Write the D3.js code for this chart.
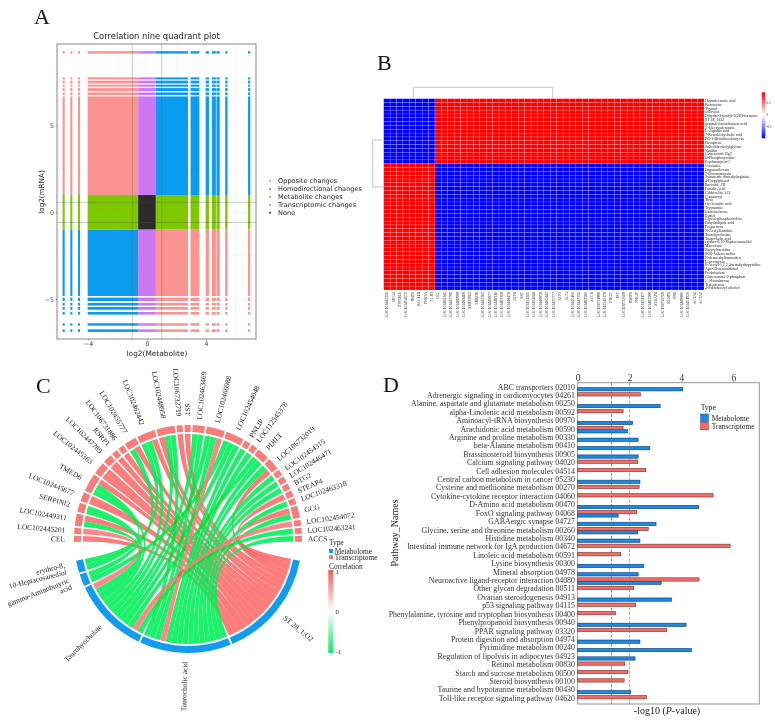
<!DOCTYPE html>
<html>
<head>
<meta charset="utf-8">
<script src="https://cdn.jsdelivr.net/npm/d3@7"></script>
<style>
   html, body { margin: 0; padding: 0; background: #fff; }
   svg { display: block; }
   text { font-family: "Liberation Serif", serif; fill: #222; }
   .sans text, text.sans { font-family: "DejaVu Sans", sans-serif; }
   .blend { isolation: isolate; }
   .blend path { mix-blend-mode: multiply; }
</style>
</head>
<body>
<svg id="chart" width="775" height="721"></svg>
<script>
// Panel A: value ranges on each axis where the points form solid bands
const metaboliteBands = [[-5.72, -5.58], [-5.2, -5.06], [-4.68, -4.54], [-4.02, -0.6], [-0.6, 0.6], [0.6, 2.78],
   [2.95, 3.55], [3.98, 4.2], [4.4, 4.67], [4.71, 4.93], [5.3, 5.46], [6.85, 7.0]];
const mrnaBands = [[9.16, 9.3], [7.67, 7.79], [7.44, 7.6], [7.25, 7.37], [7.0, 7.17], [6.77, 6.92], [1, 6.69], [-1, 1],
   [-4.83, -1], [-5.12, -4.92], [-5.38, -5.23], [-5.62, -5.46], [-5.9, -5.75], [-6.54, -6.4], [-6.9, -6.75]];
const quadrantNames = ['Opposite changes', 'Homodirectional changes', 'Metabolite changes', 'Transcriptomic changes', 'None'];
const quadrantColors = ['#fb9490', '#0b9cf0', '#7ec800', '#cc78f2', '#2b2b2b'];

// Panel B
const heatRowLabels = ['Heptadecanoic acid', 'Bufotenine', 'Thymol', 'ioflavone', 'Dihydro-3-pentyl-3(2H)-furanone', 'ST 28_1;O2',
   'gamma-Aminobutyric acid', "5'-Deoxyadenosine", 'L-Aspartic acid', '7-Ketodeoxycholic acid', 'PG-1-Dimidiocolamycin', 'Decaprene',
   'Sulfolithocholylglycine', 'Vanillin', 'Ginsenoside Rg3', 'O-Phosphotyrosine', 'Erythromycin C', 'Cerulenin', 'Organosiloxane',
   '7-Oxomatairesin', 'Symmetric dimethylarginine', '4-Propylphenol', 'Bacoside_III', 'Fusidic Acid', 'Gibberellin A13', 'Cinnamoyl',
   'Ticin', 'cis-Aconitic acid', 'Tryptamine', 'Galactaclarose', 'Estriol', 'Glycerophosphocholine', 'Dihydrolipoic acid', 'Pregnenone',
   'N-Acetylhistidine', 'Taurohyocholate', 'Taurocholic acid', 'erythro-8,10-Heptacosanediol', 'Mitoxitone', 'Butyrylcarnitine',
   '(RS)-Valencenoline', 'N-desmethyltamoxifen', 'Leucomycin', '6-Acetyl-1,2,3,4-tetrahydropyridine', 'Apo-13-zeaxanthinal',
   'Prednisolone', 'Glucosamine 6-phosphate', '(+)-Isotalatrone', 'Testosterone', '4-Sulfobenzyl alcohol'];
const heatColLabels = ['LOC102445201', 'BTG2', 'ZFP36L1', 'LOC102454072', 'RBP1', 'BCL11B', 'PHETA', 'TLR3', 'CEL', 'LOC102463241',
   'LOC102447789', 'LOC102466988', 'LOC102463469', 'SERPINI2', 'TMED6', 'LOC102445363', 'LOC102445677', 'LOC102449311', 'LOC102463318',
   'LOC102446471', 'ATF4', 'SST', 'LOC102454315', 'LOC102454048', 'LOC102448958', 'LOC102462442', 'LOC102455777', 'ATF3', 'GCG',
   'LOC102445100', 'LOC102447551', 'LOC102463560', 'ACCS', 'LOC106731886', 'LOC112545378', 'PDILT', 'VIT', 'LOC106732019', 'RSRP1',
   'PNLIP', 'LOC102451177', 'LOC102462388', 'STEAP4', 'LOC106732719', 'RLBP1', 'FN1', 'LOC102449880', 'LOC102451920', 'ACTA1', 'ACTA2'];
const heatRowSign = [1, 1, 1, 1, 1, 1, 1, 1, 1, 1, 1, 1, 1, 1, 1, 1, 1, -1, -1, -1, -1, -1, -1, -1, -1, -1, -1, -1, -1, -1, -1, -1, -1,
   -1, -1, -1, -1, -1, -1, -1, -1, -1, -1, -1, -1, -1, -1, -1, -1, -1];
const heatColSign = [-1, -1, -1, -1, -1, -1, -1, -1, 1, 1, 1, 1, 1, 1, 1, 1, 1, 1, 1, 1, 1, 1, 1, 1, 1, 1, 1, 1, 1, 1, 1, 1, 1, 1, 1, 1,
   1, 1, 1, 1, 1, 1, 1, 1, 1, 1, 1, 1, 1, 1];

// Panel C: [gene, metabolite, correlation, link width], genes clockwise from CEL
const chordGenes = ['CEL', 'LOC102445201', 'LOC102449311', 'SERPINI2', 'LOC102445677', 'TMED6', 'LOC102445363', 'LOC102447789', 'RSRP1',
   'LOC106731886', 'LOC102455777', 'LOC102462442', 'LOC102448958', 'LOC106732719', 'SST', 'LOC102463469', 'LOC102466988', 'LOC102454048',
   'PNLIP', 'LOC112545378', 'PDILT', 'LOC106732019', 'LOC102454315', 'LOC102446471', 'BTG2', 'STEAP4', 'LOC102463318', 'GCG',
   'LOC102454072', 'LOC102463241', 'ACCS'];
const chordMetabolites = ['ST 28_1;O2', 'Taurocholic acid', 'Taurohyocholate', 'gamma-Aminobutyric acid', 'erythro-8,10-Heptacosanediol'];
const chordLinks = [
   ['CEL', 'ST 28_1;O2', 1, 1], ['LOC102445201', 'Taurohyocholate', 1, 1],
   ['LOC102449311', 'Taurohyocholate', -1, 1], ['LOC102449311', 'ST 28_1;O2', 1, 1],
   ['SERPINI2', 'Taurohyocholate', -1, 1.5], ['LOC102445677', 'ST 28_1;O2', 1, 1.5],
   ['TMED6', 'erythro-8,10-Heptacosanediol', -1, 1], ['TMED6', 'Taurohyocholate', -1, 1], ['TMED6', 'ST 28_1;O2', 1, 1],
   ['LOC102445363', 'ST 28_1;O2', 1, 1], ['LOC102445363', 'ST 28_1;O2', 1, 1],
   ['LOC102447789', 'ST 28_1;O2', 1, 1.5], ['RSRP1', 'ST 28_1;O2', 1, 1], ['LOC106731886', 'ST 28_1;O2', 1, 1],
   ['LOC102455777', 'gamma-Aminobutyric acid', -1, 1], ['LOC102455777', 'ST 28_1;O2', 1, 1],
   ['LOC102462442', 'erythro-8,10-Heptacosanediol', -1, 1], ['LOC102462442', 'Taurohyocholate', -1, 1], ['LOC102462442', 'ST 28_1;O2', 1, 1],
   ['LOC102448958', 'ST 28_1;O2', 1, 1], ['LOC102448958', 'Taurohyocholate', -1, 1], ['LOC102448958', 'Taurocholic acid', -1, 1],
   ['LOC106732719', 'ST 28_1;O2', 1, 1], ['SST', 'ST 28_1;O2', 1, 1],
   ['LOC102463469', 'Taurohyocholate', -1, 1], ['LOC102463469', 'Taurocholic acid', -1, 1],
   ['LOC102466988', 'Taurohyocholate', -1, 1], ['LOC102466988', 'Taurocholic acid', -1, 1], ['LOC102466988', 'Taurocholic acid', 1, 1],
   ['LOC102454048', 'gamma-Aminobutyric acid', -1, 1], ['LOC102454048', 'Taurohyocholate', -1, 1], ['LOC102454048', 'Taurocholic acid', -1, 1],
   ['PNLIP', 'Taurocholic acid', -1, 1], ['LOC112545378', 'Taurocholic acid', -1, 1],
   ['PDILT', 'Taurohyocholate', -1, 1], ['PDILT', 'Taurocholic acid', -1, 1],
   ['LOC106732019', 'Taurocholic acid', -1, 1], ['LOC106732019', 'ST 28_1;O2', 1, 1],
   ['LOC102454315', 'Taurocholic acid', -1, 1], ['LOC102446471', 'Taurocholic acid', -1, 1], ['BTG2', 'Taurocholic acid', -1, 1],
   ['STEAP4', 'ST 28_1;O2', 1, 1], ['LOC102463318', 'Taurocholic acid', -1, 1],
   ['GCG', 'ST 28_1;O2', 1, 1], ['GCG', 'Taurocholic acid', -1, 1],
   ['LOC102454072', 'Taurohyocholate', 1, 1], ['LOC102463241', 'Taurohyocholate', -1, 1], ['ACCS', 'Taurocholic acid', -1, 1]
];

// Panel D
const pathwayNames = ['ABC transporters 02010', 'Adrenergic signaling in cardiomyocytes 04261', 'Alanine, aspartate and glutamate metabolism 00250',
   'alpha-Linolenic acid metabolism 00592', 'Aminoacyl-tRNA biosynthesis 00970', 'Arachidonic acid metabolism 00590',
   'Arginine and proline metabolism 00330', 'beta-Alanine metabolism 00410', 'Brassinosteroid biosynthesis 00905',
   'Calcium signaling pathway 04020', 'Cell adhesion molecules 04514', 'Central carbon metabolism in cancer 05230',
   'Cysteine and methionine metabolism 00270', 'Cytokine-cytokine receptor interaction 04060', 'D-Amino acid metabolism 00470',
   'FoxO signaling pathway 04068', 'GABAergic synapse 04727', 'Glycine, serine and threonine metabolism 00260', 'Histidine metabolism 00340',
   'Intestinal immune network for IgA production 04672', 'Linoleic acid metabolism 00591', 'Lysine biosynthesis 00300',
   'Mineral absorption 04978', 'Neuroactive ligand-receptor interaction 04080', 'Other glycan degradation 00511', 'Ovarian steroidogenesis 04913',
   'p53 signaling pathway 04115', 'Phenylalanine, tyrosine and tryptophan biosynthesis 00400', 'Phenylpropanoid biosynthesis 00940',
   'PPAR signaling pathway 03320', 'Protein digestion and absorption 04974', 'Pyrimidine metabolism 00240',
   'Regulation of lipolysis in adipocytes 04923', 'Retinol metabolism 00830', 'Starch and sucrose metabolism 00500',
   'Steroid biosynthesis 00100', 'Taurine and hypotaurine metabolism 00430', 'Toll-like receptor signaling pathway 04620'];
const metabolomeValues = [4.05, null, 3.18, null, 2.12, 1.92, 2.33, 2.78, 2.33, null, null, 2.4, null, null, 4.67, 1.56, 3.02, 2.32, 2.4,
   null, null, 2.55, 2.33, 3.22, null, 3.62, null, null, 4.18, null, 2.4, 4.38, 2.21, null, null, null, 2.04, null];
const transcriptomeValues = [null, 2.42, null, 1.75, null, 1.75, null, null, null, 2.32, 2.63, null, 2.37, 5.22, null, 2.28, null, 2.72, null,
   5.88, 1.66, null, null, 4.68, 2.16, null, 2.24, 1.46, null, 3.44, null, null, null, 1.82, 1.94, 1.79, null, 2.65];
const pValueCutoffs = [1.3, 2];
const typeNames = ['Metabolome', 'Transcriptome'];
const typeColors = ['#1a8ae2', '#ef6e6a'];

const svg = d3.select('#chart');
const defs = svg.append('defs');

drawPanelLetters();
drawQuadrantPlot();
drawHeatmap();
drawChord();
drawPathwayBars();

function drawPanelLetters() {
   const letters = [['A', 34, 24], ['B', 377, 70], ['C', 36, 393], ['D', 383, 392]];
   svg.selectAll('text.letter')
      .data(letters)
      .enter()
      .append('text')
      .attr('class', 'letter')
      .attr('x', (d) => d[1])
      .attr('y', (d) => d[2])
      .attr('font-size', 22)
      .style('fill', '#111')
      .text((d) => d[0]);
}

// verticalGradient: stops listed top to bottom
function verticalGradient(id, colors) {
   const g = defs.append('linearGradient')
      .attr('id', id)
      .attr('x1', 0).attr('x2', 0).attr('y1', 0).attr('y2', 1);
   colors.forEach((c, i) => {
      g.append('stop').attr('offset', i / (colors.length - 1)).attr('stop-color', c);
   });
}

// A: nine quadrant plot
function drawQuadrantPlot() {
   const frame = { left: 57, right: 256, top: 44, bottom: 339 };
   const x = d3.scaleLinear().domain([-4, 4]).range([88, 206]);
   const y = d3.scaleLinear().domain([-5, 5]).range([299, 125.7]);
   const g = svg.append('g').attr('class', 'sans');

   // grid
   const gridX = [-6, -4, -2, 0, 2, 4, 6];
   const gridY = [-5, -2.5, 0, 2.5, 5, 7.5];
   g.selectAll('line.gx').data(gridX).enter().append('line')
      .attr('x1', x).attr('x2', x).attr('y1', frame.top).attr('y2', frame.bottom)
      .attr('stroke', '#eeeeee').attr('stroke-width', 0.6);
   g.selectAll('line.gy').data(gridY).enter().append('line')
      .attr('x1', frame.left).attr('x2', frame.right).attr('y1', y).attr('y2', y)
      .attr('stroke', '#eeeeee').attr('stroke-width', 0.6);

   // points form solid blocks, one rect per pair of bands
   const cells = [];
   metaboliteBands.forEach((mx) => {
      mrnaBands.forEach((my) => {
         cells.push({ mx: mx, my: my, kind: quadrant((mx[0] + mx[1]) / 2, (my[0] + my[1]) / 2) });
      });
   });
   g.selectAll('rect.cell')
      .data(cells)
      .enter()
      .append('rect')
      .attr('x', (d) => x(d.mx[0]))
      .attr('width', (d) => x(d.mx[1]) - x(d.mx[0]))
      .attr('y', (d) => y(d.my[1]))
      .attr('height', (d) => y(d.my[0]) - y(d.my[1]))
      .attr('fill', (d) => quadrantColors[d.kind]);

   // threshold lines
   [-1, 1].forEach((v) => {
      g.append('line').attr('x1', x(v)).attr('x2', x(v)).attr('y1', frame.top).attr('y2', frame.bottom)
         .attr('stroke', '#555').attr('stroke-opacity', 0.55).attr('stroke-width', 0.6);
   });
   [-0.585, 0.585].forEach((v) => {
      g.append('line').attr('x1', frame.left).attr('x2', frame.right).attr('y1', y(v)).attr('y2', y(v))
         .attr('stroke', '#555').attr('stroke-opacity', 0.55).attr('stroke-width', 0.6);
   });

   g.append('rect')
      .attr('x', frame.left).attr('y', frame.top)
      .attr('width', frame.right - frame.left).attr('height', frame.bottom - frame.top)
      .attr('fill', 'none').attr('stroke', '#7a7a7a').attr('stroke-width', 0.9);

   // axes
   const xAxis = g.append('g').attr('transform', `translate(0,${frame.bottom})`)
      .call(d3.axisBottom(x).tickValues([-4, 0, 4]).tickSize(1.5).tickPadding(1).tickFormat(d3.format('d')));
   const yAxis = g.append('g').attr('transform', `translate(${frame.left},0)`)
      .call(d3.axisLeft(y).tickValues([-5, 0, 5]).tickSize(1.5).tickPadding(1.5).tickFormat(d3.format('d')));
   [xAxis, yAxis].forEach((a) => {
      a.select('.domain').remove();
      a.selectAll('line').attr('stroke', '#555').attr('stroke-width', 0.5);
      a.selectAll('text').attr('font-size', 6.3).attr('font-family', 'DejaVu Sans').style('fill', '#444');
   });

   g.append('text').attr('x', 156.5).attr('y', 38.5).attr('text-anchor', 'middle')
      .attr('font-size', 8.4).text('Correlation nine quadrant plot');
   g.append('text').attr('x', 157).attr('y', 356).attr('text-anchor', 'middle')
      .attr('font-size', 7.4).text('log2(Metabolite)');
   g.append('text').attr('transform', 'translate(44,192) rotate(-90)').attr('text-anchor', 'middle')
      .attr('font-size', 7.2).text('log2(mRNA)');

   // legend
   const legend = g.selectAll('g.legend').data(quadrantNames).enter().append('g')
      .attr('transform', (d, i) => `translate(270,${181 + i * 7.95})`);
   legend.append('circle').attr('r', 1).attr('fill', (d, i) => quadrantColors[i]);
   legend.append('text').attr('x', 8).attr('dy', '0.34em').attr('font-size', 6.6).text((d) => d);
}

function quadrant(mx, my) {
   const big = Math.abs(mx) > 0.6;
   const tall = Math.abs(my) > 1;
   if (big && tall) return mx * my < 0 ? 0 : 1;
   if (big) return 2;
   if (tall) return 3;
   return 4;
}

// B: correlation heatmap
function drawHeatmap() {
   const x = d3.scaleBand().domain(d3.range(heatColLabels.length)).range([383.7, 704]);
   const y = d3.scaleBand().domain(d3.range(heatRowLabels.length)).range([98.7, 290]);
   const color = d3.scaleLinear().domain([-1, 0, 1]).range(['#0000ff', '#ffffff', '#ff0000']);
   const g = svg.append('g');

   const cells = [];
   heatRowSign.forEach((r, i) => {
      heatColSign.forEach((c, j) => {
         cells.push({ row: i, col: j, value: r * c });
      });
   });
   g.selectAll('rect.heat')
      .data(cells)
      .enter()
      .append('rect')
      .attr('x', (d) => x(d.col))
      .attr('y', (d) => y(d.row))
      .attr('width', x.bandwidth())
      .attr('height', y.bandwidth())
      .attr('fill', (d) => color(d.value))
      .attr('stroke', 'rgba(255,255,255,0.4)')
      .attr('stroke-width', 0.35);

   g.selectAll('text.rowlab')
      .data(heatRowLabels)
      .enter()
      .append('text')
      .attr('x', 705)
      .attr('y', (d, i) => y(i) + y.bandwidth() / 2)
      .attr('dy', '0.32em')
      .attr('font-size', 3.9)
      .text((d) => d);

   g.selectAll('text.collab')
      .data(heatColLabels)
      .enter()
      .append('text')
      .attr('transform', (d, i) => `translate(${x(i) + x.bandwidth() / 2},292) rotate(-90)`)
      .attr('dy', '0.32em')
      .attr('text-anchor', 'end')
      .attr('font-size', 3.9)
      .text((d) => d);

   // dendrograms
   const dendro = [
      [[413.3, 98.7], [413.3, 87.3], [552.7, 87.3], [552.7, 98.7]],
      [[383.7, 140], [372.7, 140], [372.7, 187], [383.7, 187]]
   ];
   g.selectAll('path.dendro')
      .data(dendro)
      .enter()
      .append('path')
      .attr('d', d3.line())
      .attr('fill', 'none')
      .attr('stroke', '#aaa')
      .attr('stroke-width', 0.7);

   // colour bar
   verticalGradient('heatScale', ['#ff0000', '#ffffff', '#0000ff']);
   g.append('rect').attr('x', 761.7).attr('y', 92.3).attr('width', 3.6).attr('height', 46)
      .attr('fill', 'url(#heatScale)');
   const barScale = d3.scaleLinear().domain([-0.5, 0.5]).range([127, 103]);
   g.selectAll('text.barlab')
      .data([-0.5, 0, 0.5])
      .enter()
      .append('text')
      .attr('x', 766.5)
      .attr('y', barScale)
      .attr('dy', '0.32em')
      .attr('font-size', 3.2)
      .text((d) => d);
}

// C: chord diagram
function drawChord() {
   const cx = 188, cy = 539;
   const outer = 114, inner = 107, ribbonR = 105;
   const g = svg.append('g').attr('transform', `translate(${cx},${cy})`);
   const deg = Math.PI / 180;
   const gap = 0.96, unit = 3.115;

   // lay the sectors out clockwise, widths follow the link widths
   function sectors(names, start, linkKey) {
      let a = start;
      return names.map((name) => {
         const n = d3.sum(chordLinks.filter((l) => l[linkKey] === name), (l) => l[3]);
         const s = { name: name, start: a, end: a + n * unit };
         a = s.end + gap;
         return s;
      });
   }
   const geneSectors = sectors(chordGenes, 268.5, 0);
   const metSectors = sectors(chordMetabolites, 101, 1);
   const geneIndex = new Map(chordGenes.map((n, i) => [n, i]));

   // gene end: list order. metabolite end: mirrored gene order so fans do not twist
   const genePos = new Map();
   const geneLinks = chordLinks.map((l) => {
      const s = geneSectors[geneIndex.get(l[0])];
      const k = genePos.get(l[0]) || 0;
      genePos.set(l[0], k + l[3]);
      return { link: l, a0: s.start + k * unit, a1: s.start + (k + l[3]) * unit };
   });
   metSectors.forEach((s) => {
      const own = geneLinks.filter((d) => d.link[1] === s.name).sort((p, q) => q.a0 - p.a0);
      let k = 0;
      own.forEach((d) => {
         d.b0 = s.start + k * unit;
         k += d.link[3];
         d.b1 = s.start + k * unit;
      });
   });

   const ribbon = d3.ribbon().radius(ribbonR);
   const linkColor = d3.scaleLinear().domain([-1, 0, 1]).range(['#00ee5a', '#ffffff', '#fb7c7a']);
   const ribbonPath = (d) => ribbon({
      source: { startAngle: d.a0 * deg, endAngle: d.a1 * deg },
      target: { startAngle: d.b0 * deg, endAngle: d.b1 * deg }
   });

   // same colour overlaps deepen, layers on top of each other stay see-through
   const layers = [
      { links: geneLinks.filter((d) => d.link[2] > 0 && d.link[1] === 'ST 28_1;O2'), opacity: 1 },
      { links: geneLinks.filter((d) => d.link[2] < 0), opacity: 0.88 },
      { links: geneLinks.filter((d) => d.link[2] > 0 && d.link[1] !== 'ST 28_1;O2'), opacity: 0.9 }
   ];
   layers.forEach((layer) => {
      g.append('g')
         .attr('class', 'blend')
         .attr('opacity', layer.opacity)
         .selectAll('path')
         .data(layer.links)
         .enter()
         .append('path')
         .attr('d', ribbonPath)
         .attr('fill', (d) => linkColor(d.link[2]));
   });

   const arc = d3.arc().innerRadius(inner).outerRadius(outer);
   const ring = (data, color) => g.append('g').selectAll('path')
      .data(data)
      .enter()
      .append('path')
      .attr('d', (d) => arc({ startAngle: d.start * deg, endAngle: d.end * deg }))
      .attr('fill', color);
   ring(geneSectors, '#f97c7a');
   ring(metSectors, '#119cee');

   // labels, radial and reading from the left on either side
   const labelled = geneSectors.map((d) => ({ lines: [d.name], mid: (d.start + d.end) / 2 }))
      .concat(metSectors.map((d) => ({
         lines: d.name === 'gamma-Aminobutyric acid' ? ['gamma-Aminobutyric', 'acid']
            : d.name === 'erythro-8,10-Heptacosanediol' ? ['erythro-8,', '10-Heptacosanediol'] : [d.name],
         mid: (d.start + d.end) / 2
      })));
   const labels = g.selectAll('text.chordlab')
      .data(labelled)
      .enter()
      .append('text')
      .attr('font-size', 7.4)
      .attr('transform', (d) => {
         const a = ((d.mid % 360) + 360) % 360;
         if (a > 180) return `rotate(${a - 90}) translate(${a > 230 && a < 262 ? 126 : 123},0) rotate(180)`;
         return `rotate(${a - 90}) translate(${a < 100 ? 120 : 124},0)`;
      })
      .attr('text-anchor', (d) => (((d.mid % 360) + 360) % 360 > 180 ? 'end' : 'start'));
   labels.each(function (d) {
      const t = d3.select(this);
      d.lines.forEach((line, i) => {
         t.append('tspan')
            .attr('x', 0)
            .attr('dy', i === 0 ? (d.lines.length > 1 ? '-0.3em' : '0.32em') : '0.95em')
            .text(line);
      });
   });

   // legend
   const lg = svg.append('g');
   lg.append('text').attr('x', 329).attr('y', 545).attr('font-size', 7.4).text('Type');
   typeNames.forEach((name, i) => {
      lg.append('rect').attr('x', 329).attr('y', 549 + i * 6).attr('width', 4).attr('height', 4).attr('fill', i === 0 ? '#119cee' : '#f97c7a');
      lg.append('text').attr('x', 334.7).attr('y', 554.4 + i * 6).attr('font-size', 7.4).text(name);
   });
   lg.append('text').attr('x', 329).attr('y', 568.5).attr('font-size', 7.4).text('Correlation');
   verticalGradient('chordScale', ['#f55b56', '#ffffff', '#0ce864']);
   lg.append('rect').attr('x', 328.3).attr('y', 570).attr('width', 5).attr('height', 83).attr('fill', 'url(#chordScale)');
   const corr = d3.scaleLinear().domain([-1, 1]).range([652, 572]);
   lg.selectAll('text.corr')
      .data([1, 0, -1])
      .enter()
      .append('text')
      .attr('x', 335.5)
      .attr('y', corr)
      .attr('dy', '0.32em')
      .attr('font-size', 6.8)
      .text((d) => d);
}

// D: pathway enrichment bars
function drawPathwayBars() {
   const frame = { left: 577.7, right: 759.3, top: 382.7, bottom: 704 };
   const x = d3.scaleLinear().domain([0, 6]).range([577.7, 733.3]);
   const y = d3.scaleBand().domain(pathwayNames).range([383.4, 703.1]);
   const inner = d3.scaleBand().domain(['Transcriptome', 'Metabolome']).range([y.bandwidth() / 2 - 3.3, y.bandwidth() / 2 + 3.3]);
   const g = svg.append('g');

   g.append('rect')
      .attr('x', frame.left).attr('y', frame.top)
      .attr('width', frame.right - frame.left).attr('height', frame.bottom - frame.top)
      .attr('fill', 'none').attr('stroke', '#8a8a8a').attr('stroke-width', 0.9);

   g.selectAll('line.cut')
      .data(pValueCutoffs)
      .enter()
      .append('line')
      .attr('x1', x).attr('x2', x)
      .attr('y1', frame.top).attr('y2', frame.bottom)
      .attr('stroke', (d, i) => (i === 0 ? '#5a55c0' : '#e8605c'))
      .attr('stroke-width', 0.7)
      .attr('stroke-dasharray', '3,1.5');

   const series = [['Metabolome', metabolomeValues, '#0c3d6e'], ['Transcriptome', transcriptomeValues, '#7a2b28']];
   series.forEach((s, k) => {
      const bars = pathwayNames.map((name, i) => ({ name: name, value: s[1][i] })).filter((d) => d.value !== null);
      g.selectAll(null)
         .data(bars)
         .enter()
         .append('rect')
         .attr('x', x(0))
         .attr('y', (d) => y(d.name) + inner(s[0]))
         .attr('width', (d) => x(d.value) - x(0))
         .attr('height', inner.bandwidth())
         .attr('fill', typeColors[k])
         .attr('stroke', s[2])
         .attr('stroke-width', 0.6);
   });

   g.selectAll('text.path')
      .data(pathwayNames)
      .enter()
      .append('text')
      .attr('x', 575)
      .attr('y', (d) => y(d) + y.bandwidth() / 2 - 0.6)
      .attr('dy', '0.32em')
      .attr('text-anchor', 'end')
      .attr('font-size', 7.9)
      .style('fill', '#333')
      .text((d) => d);

   const axis = g.append('g').attr('transform', `translate(0,${frame.top})`)
      .call(d3.axisTop(x).tickValues([0, 2, 4, 6]).tickSize(1.5).tickPadding(0.5).tickFormat(d3.format('d')));
   axis.select('.domain').remove();
   axis.selectAll('line').attr('stroke', '#777').attr('stroke-width', 0.6);
   axis.selectAll('text').attr('font-size', 9.5).attr('font-family', 'Liberation Serif').style('fill', '#333');

   g.append('text').attr('transform', 'translate(398,533) rotate(-90)').attr('text-anchor', 'middle')
      .attr('font-size', 10).text('Pathway_Names');
   const xLabel = g.append('text').attr('x', 667).attr('y', 714).attr('text-anchor', 'middle').attr('font-size', 10);
   xLabel.append('tspan').text('-log10 (');
   xLabel.append('tspan').attr('font-style', 'italic').text('P');
   xLabel.append('tspan').text('-value)');

   // legend
   g.append('text').attr('x', 700.7).attr('y', 410).attr('font-size', 7.6).text('Type');
   typeNames.forEach((name, i) => {
      g.append('rect').attr('x', 700.7).attr('y', 414 + i * 8.3).attr('width', 7.6).attr('height', 7.6)
         .attr('fill', typeColors[i]).attr('stroke', series[i][2]).attr('stroke-width', 0.5);
      g.append('text').attr('x', 711.7).attr('y', 420.5 + i * 8.3).attr('font-size', 7.4).text(name);
   });
}
</script>
</body>
</html>
